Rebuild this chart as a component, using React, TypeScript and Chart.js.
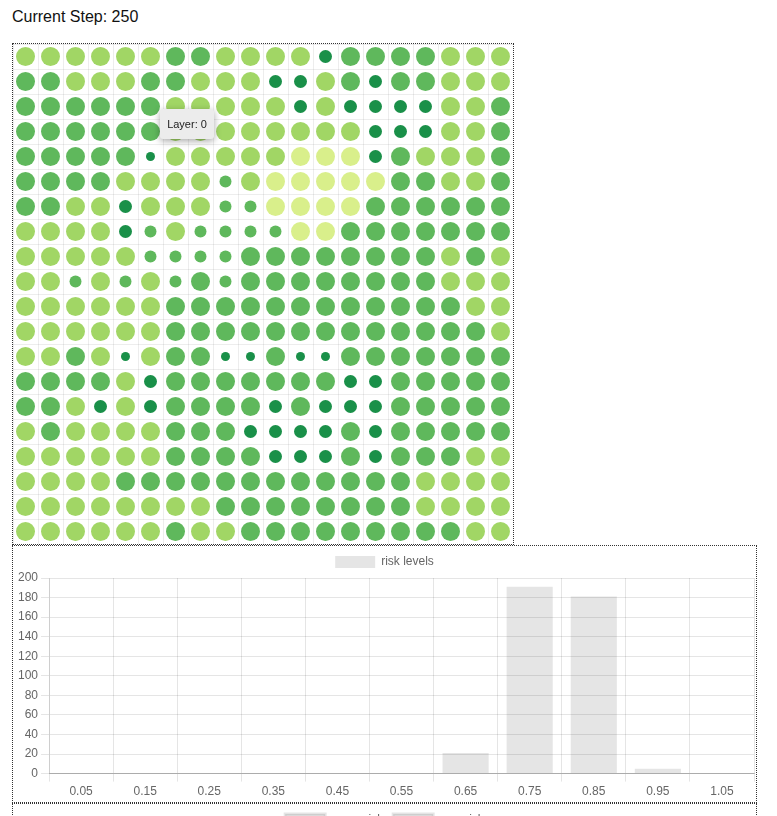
import React, { useEffect, useRef } from "react";
import { Chart, registerables } from "chart.js";

Chart.register(...registerables);

// ---------- data ----------
const currentStep = 250;

// Grid of cells (20 x 20). Codes: Y = very light, L = light, G = medium, g = medium (small),
// D = dark (medium size), d = dark (small)
const gridRows: string[] = [
  "LLLLLLGGLLLLDGGGGLLL",
  "GGLLLGGLLLDDLGDGGLLL",
  "GGGGGGLLLLLDLDDDDLLG",
  "GGGGGGLLLLLLLLDDDLLG",
  "GGGGGdLLLLLYYYDGLLLG",
  "GGGGLLLLgLYYYYYGGLLG",
  "GGLLDLLLggYYYYGGGGGG",
  "LLLLDgLggggYYGGGGGGG",
  "LLLLLggggGGGGGGGGLGL",
  "LLgLgLgGgGGGGGGGGLLL",
  "LLLLLLGGGGGGGGGGGGLL",
  "LLLLLLGGGGGGGGGGGGGL",
  "LLGLdLGGddGddGGGGGGG",
  "GGGGLDGGGGGGGDDGGGGG",
  "GGLDLDGGGGDGDDDGGGGG",
  "LGLLLLGGGDDDDGDGGGGG",
  "LLLLLLGGGGDDDGDGGGLL",
  "LLLLGGGGGGGGGGGGLLLL",
  "LLLLLLLLGGGGGGGGLLLL",
  "LLLLLLGLLGGGGGGGGGLL",
];

const levelColors: Record<string, string> = {
  Y: "#d9ef8b",
  L: "#a1d665",
  G: "#5fb85c",
  g: "#5fb85c",
  D: "#1a9049",
  d: "#1a9049",
};
const levelRadius: Record<string, number> = {
  Y: 9.5,
  L: 9.5,
  G: 9.5,
  g: 6,
  D: 6.5,
  d: 4.5,
};

const hoverLabel = "Layer: 0";
const hoverAt = { x: 5.88, y: 2.6 }; // in grid units

const riskBins = ["0.05", "0.15", "0.25", "0.35", "0.45", "0.55", "0.65", "0.75", "0.85", "0.95", "1.05"];
const riskCounts = [0, 0, 0, 0, 0, 0, 21, 191, 181, 5, 0];

const trendLabels: string[] = [];
const meanRisk: number[] = [];
const maxRisk: number[] = [];

// ---------- components ----------
const tooltipPlugin = {
  id: "fixedTooltip",
  afterDraw(chart: any) {
    const { ctx, scales } = chart;
    const x = scales.x.getPixelForValue(hoverAt.x);
    const y = scales.y.getPixelForValue(hoverAt.y);
    const w = 54;
    const h = 30;
    ctx.save();
    ctx.shadowColor = "rgba(0,0,0,0.35)";
    ctx.shadowBlur = 7;
    ctx.shadowOffsetX = 0;
    ctx.shadowOffsetY = 2;
    ctx.fillStyle = "#ececec";
    ctx.beginPath();
    if (ctx.roundRect) ctx.roundRect(x, y, w, h, 3);
    else ctx.rect(x, y, w, h);
    ctx.fill();
    ctx.restore();
    ctx.save();
    ctx.fillStyle = "#222";
    ctx.font = "11px 'Helvetica Neue', Helvetica, Arial, sans-serif";
    ctx.textAlign = "center";
    ctx.textBaseline = "middle";
    ctx.fillText(hoverLabel, x + w / 2, y + h / 2 + 0.5);
    ctx.restore();
  },
};

function GridChart() {
  const ref = useRef<HTMLCanvasElement>(null);
  useEffect(() => {
    const pts: any[] = [];
    const colors: string[] = [];
    gridRows.forEach((row, r) => {
      row.split("").forEach((code, c) => {
        pts.push({ x: c + 0.5, y: r + 0.5, r: levelRadius[code] });
        colors.push(levelColors[code]);
      });
    });
    const chart = new Chart(ref.current!, {
      type: "bubble",
      data: {
        datasets: [
          {
            data: pts,
            backgroundColor: colors,
            borderWidth: 0,
            hoverBorderWidth: 0,
            hoverRadius: 0,
          } as any,
        ],
      },
      options: {
        animation: false,
        responsive: false,
        events: [],
        layout: { padding: 0, autoPadding: false },
        plugins: { legend: { display: false }, tooltip: { enabled: false } },
        scales: {
          x: {
            type: "linear",
            min: 0,
            max: 20,
            ticks: { display: false, stepSize: 1 },
            grid: { color: "rgba(0,0,0,0.07)", drawTicks: false, lineWidth: 1 },
            border: { display: false },
          },
          y: {
            type: "linear",
            min: 0,
            max: 20,
            reverse: true,
            ticks: { display: false, stepSize: 1 },
            grid: { color: "rgba(0,0,0,0.07)", drawTicks: false, lineWidth: 1 },
            border: { display: false },
          },
        },
      } as any,
      plugins: [tooltipPlugin],
    });
    return () => chart.destroy();
  }, []);
  return <canvas ref={ref} width={500} height={500} style={{ display: "block" }} />;
}

function RiskChart() {
  const ref = useRef<HTMLCanvasElement>(null);
  useEffect(() => {
    const chart = new Chart(ref.current!, {
      type: "bar",
      data: {
        labels: riskBins,
        datasets: [
          {
            label: "risk levels",
            data: riskCounts,
            backgroundColor: "rgba(0,0,0,0.1)",
            borderWidth: 0,
          },
        ],
      },
      options: {
        animation: false,
        responsive: false,
        events: [],
        layout: { padding: { left: 2, right: 2 } },
        plugins: {
          legend: { labels: { color: "#666", font: { size: 12 } } },
          tooltip: { enabled: false },
        },
        scales: {
          x: {
            grid: { color: "rgba(0,0,0,0.1)", offset: true },
            border: { color: "rgba(0,0,0,0.25)" },
            ticks: { color: "#666", font: { size: 12 } },
          },
          y: {
            min: 0,
            max: 200,
            ticks: { stepSize: 20, color: "#666", font: { size: 12 } },
            grid: { color: "rgba(0,0,0,0.1)" },
            border: { color: "rgba(0,0,0,0.1)" },
          },
        },
      } as any,
    });
    return () => chart.destroy();
  }, []);
  return <canvas ref={ref} width={743} height={256} style={{ display: "block" }} />;
}

function TrendChart() {
  const ref = useRef<HTMLCanvasElement>(null);
  useEffect(() => {
    const chart = new Chart(ref.current!, {
      type: "line",
      data: {
        labels: trendLabels,
        datasets: [
          { label: "mean risk", data: meanRisk, backgroundColor: "rgba(0,0,0,0.1)", borderColor: "rgba(0,0,0,0.1)" },
          { label: "max risk", data: maxRisk, backgroundColor: "rgba(0,0,0,0.1)", borderColor: "rgba(0,0,0,0.1)" },
        ],
      },
      options: {
        animation: false,
        responsive: false,
        events: [],
        plugins: { legend: { labels: { color: "#666" } }, tooltip: { enabled: false } },
      } as any,
    });
    return () => chart.destroy();
  }, []);
  return <canvas ref={ref} width={743} height={256} style={{ display: "block" }} />;
}

export default function App() {
  const box: React.CSSProperties = { border: "1px dotted #333", boxSizing: "content-box" };
  return (
    <div style={{ padding: "0 4px", fontFamily: "'Helvetica Neue', Helvetica, Arial, sans-serif" }}>
      <div style={{ fontSize: 16, lineHeight: "18px", height: 18, color: "#111" }}>Current Step: {currentStep}</div>
      <div style={{ ...box, width: 500, height: 500, marginTop: 17 }}>
        <GridChart />
      </div>
      <div style={{ ...box, width: 743, height: 256 }}>
        <RiskChart />
      </div>
      <div style={{ ...box, width: 743, height: 256 }}>
        <TrendChart />
      </div>
    </div>
  );
}
